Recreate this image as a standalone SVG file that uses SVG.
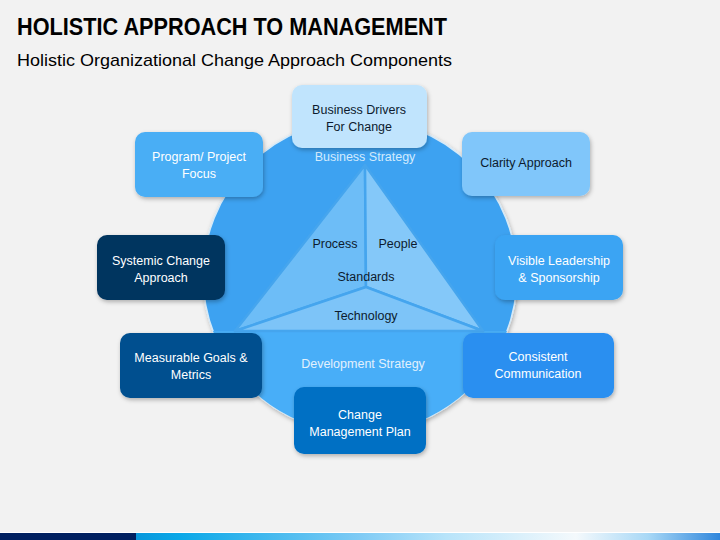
<svg xmlns="http://www.w3.org/2000/svg" width="720" height="540" viewBox="0 0 720 540">
  <defs>
    <filter id="sh" x="-20%" y="-20%" width="140%" height="150%">
      <feDropShadow dx="1" dy="2" stdDeviation="2" flood-color="#000" flood-opacity="0.28"/>
    </filter>
    <linearGradient id="bar" x1="0" y1="0" x2="1" y2="0">
      <stop offset="0" stop-color="#0063b8"/>
      <stop offset="0.25" stop-color="#0aa8e8"/>
      <stop offset="0.5" stop-color="#7fcbf5"/>
      <stop offset="0.62" stop-color="#b8e4fa"/>
      <stop offset="0.8" stop-color="#f4f9fc"/>
      <stop offset="0.9" stop-color="#a8d8f6"/>
      <stop offset="1" stop-color="#2f86dc"/>
    </linearGradient>
    <style>
      .box { filter: url(#sh); }
      .t { font-family: "Liberation Sans", Arial, sans-serif; font-size: 12.5px; text-anchor: middle; dominant-baseline: central; }
      .w { fill: #ffffff; }
      .d { fill: #0d1b2e; }
      .facet { stroke: #45a5ee; stroke-width: 2.5; stroke-linejoin: round; }
    </style>
  </defs>

  <rect width="720" height="540" fill="#f2f2f2"/>

  <text x="17" y="35" font-family="'Liberation Sans', Arial, sans-serif" font-size="23" font-weight="bold" fill="#000" textLength="430" lengthAdjust="spacingAndGlyphs">HOLISTIC APPROACH TO MANAGEMENT</text>
  <text x="17" y="66" font-family="'Liberation Sans', Arial, sans-serif" font-size="17" fill="#000" textLength="435" lengthAdjust="spacingAndGlyphs">Holistic Organizational Change Approach Components</text>

  <g id="wheel">
    <circle cx="360" cy="276" r="157" fill="#3ea2f1" stroke="#d6eaf8" stroke-width="1.5" filter="url(#sh)"/>
    <path d="M212.95,331 A157,157 0 0 0 507.05,331 Z" fill="#48aef8"/>
    <polygon class="facet" points="365,165 366,287 235,331" fill="#6dbdf7"/>
    <polygon class="facet" points="365,165 366,287 483,331" fill="#84c8f9"/>
    <polygon class="facet" points="235,331 366,287 483,331" fill="#7dc4f8"/>
    <text class="t" x="365" y="157" fill="#d3ebfd">Business Strategy</text>
    <text class="t d" x="335" y="244">Process</text>
    <text class="t d" x="398" y="244">People</text>
    <text class="t d" x="366" y="277">Standards</text>
    <text class="t d" x="366" y="316">Technology</text>
    <text class="t" x="363" y="364" fill="#e2f1fd">Development Strategy</text>
  </g>

  <g id="connectors"></g>

  <g id="business-drivers">
    <rect class="box" x="292" y="85" width="135" height="63" rx="10" fill="#c0e4fd"/>
    <text class="t d" x="359" y="110">Business Drivers</text>
    <text class="t d" x="359" y="127">For Change</text>
  </g>

  <g id="program-focus">
    <rect class="box" x="135" y="132" width="128" height="65" rx="10" fill="#4aaef5"/>
    <text class="t w" x="199" y="157">Program/ Project</text>
    <text class="t w" x="199" y="174">Focus</text>
  </g>

  <g id="clarity-approach">
    <rect class="box" x="462" y="132" width="128" height="64" rx="10" fill="#80c6fa"/>
    <text class="t d" x="526" y="163">Clarity Approach</text>
  </g>

  <g id="systemic-change">
    <rect class="box" x="97" y="235" width="128" height="65" rx="10" fill="#00345f"/>
    <text class="t w" x="161" y="261">Systemic Change</text>
    <text class="t w" x="161" y="278">Approach</text>
  </g>

  <g id="visible-leadership">
    <rect class="box" x="495" y="235" width="128" height="65" rx="10" fill="#3aa4f3"/>
    <text class="t w" x="559" y="261">Visible Leadership</text>
    <text class="t w" x="559" y="278">&amp; Sponsorship</text>
  </g>

  <g id="measurable-goals">
    <rect class="box" x="120" y="333" width="142" height="65" rx="10" fill="#00508f"/>
    <text class="t w" x="191" y="358">Measurable Goals &amp;</text>
    <text class="t w" x="191" y="375">Metrics</text>
  </g>

  <g id="consistent-communication">
    <rect class="box" x="463" y="333" width="151" height="65" rx="10" fill="#2c8ff0"/>
    <text class="t w" x="538" y="357">Consistent</text>
    <text class="t w" x="538" y="374">Communication</text>
  </g>

  <g id="change-management-plan">
    <rect class="box" x="294" y="387" width="132" height="67" rx="10" fill="#0070c4"/>
    <text class="t w" x="360" y="415">Change</text>
    <text class="t w" x="360" y="432">Management Plan</text>
  </g>

  <g id="footer">
    <rect x="0" y="532" width="720" height="1" fill="#ffffff"/>
    <rect x="0" y="533" width="720" height="7" fill="url(#bar)"/>
    <rect x="0" y="533" width="136" height="7" fill="#002060"/>
  </g>
</svg>
